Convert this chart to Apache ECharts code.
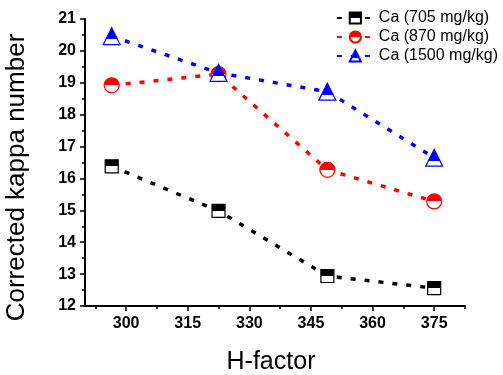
<!DOCTYPE html>
<html>
<head>
<meta charset="utf-8">
<script src="https://cdn.jsdelivr.net/npm/echarts@6/dist/echarts.min.js"></script>
<style>
  html, body { margin: 0; padding: 0; background: #fff; }
  #chart { width: 503px; height: 375px; }
</style>
</head>
<body>
<div id="chart"></div>
<script>
// H-factor values and corrected kappa number per Ca level
const hFactor = [296.5, 322.5, 349, 375]
const ca705 = [16.38, 14.98, 12.94, 12.56]
const ca870 = [18.92, 19.27, 16.27, 15.28]
const ca1500 = [20.46, 19.31, 18.72, 16.65]
const seriesNames = ['Ca (705 mg/kg)', 'Ca (870 mg/kg)', 'Ca (1500 mg/kg)']
const xMajorTicks = [300, 315, 330, 345, 360, 375]
const xMinorTicks = [292.5, 307.5, 322.5, 337.5, 352.5, 367.5, 382.5]

const font = 'Liberation Sans, Arial, sans-serif'

// top part filled, bottom white
function halfFill(color, cut) {
  return {
    type: 'linear', x: 0, y: 0, x2: 0, y2: 1,
    colorStops: [
      { offset: 0, color: color },
      { offset: cut, color: color },
      { offset: cut, color: '#fff' },
      { offset: 1, color: '#fff' }
    ]
  }
}

function makeSeries(name, values, color, symbol, size, cut) {
  return {
    name: name,
    type: 'line',
    data: hFactor.map((h, i) => [h, values[i]]),
    symbol: symbol,
    symbolSize: size,
    showAllSymbol: true,
    lineStyle: { color: color, width: 3.5, type: [5, 9] },
    itemStyle: { color: halfFill(color, cut), borderColor: color, borderWidth: 1.2 },
    emphasis: { disabled: true }
  }
}

const chart = echarts.init(document.getElementById('chart'))
chart.setOption({
  animation: false,
  grid: { left: 85, right: 38, top: 19, bottom: 69, containLabel: false, outerBoundsMode: 'none' },
  legend: {
    orient: 'vertical',
    right: 0,
    top: 5,
    itemWidth: 37,
    itemHeight: 14,
    itemGap: 3,
    textStyle: { fontFamily: font, fontSize: 16, color: '#000' },
    data: seriesNames
  },
  xAxis: [
    {
      type: 'value',
      min: 290,
      max: 382.5,
      name: 'H-factor',
      nameLocation: 'middle',
      nameGap: 44,
      nameTextStyle: { fontFamily: font, fontSize: 25, color: '#000', padding: [0, 8, 0, 0] },
      axisLine: { lineStyle: { color: '#000', width: 2 } },
      axisTick: { customValues: xMajorTicks, length: 5, lineStyle: { color: '#000', width: 1.5 } },
      axisLabel: { customValues: xMajorTicks, fontFamily: font, fontSize: 16, fontWeight: 'bold', color: '#000', margin: 10 },
      splitLine: { show: false }
    },
    {
      type: 'value',
      position: 'bottom',
      min: 290,
      max: 382.5,
      axisLine: { show: false },
      axisTick: { customValues: xMinorTicks, length: 3, lineStyle: { color: '#000', width: 1.5 } },
      axisLabel: { show: false },
      splitLine: { show: false }
    }
  ],
  yAxis: {
    type: 'value',
    min: 12,
    max: 21,
    interval: 1,
    name: 'Corrected kappa number',
    nameLocation: 'middle',
    nameGap: 55,
    nameTextStyle: { fontFamily: font, fontSize: 26, color: '#000', padding: [0, 30, 0, 0] },
    axisLine: { show: true, lineStyle: { color: '#000', width: 2 } },
    axisTick: { show: true, length: 5, lineStyle: { color: '#000', width: 1.5 } },
    minorTick: { show: true, splitNumber: 2, length: 3, lineStyle: { color: '#000', width: 1.5 } },
    axisLabel: { fontFamily: font, fontSize: 16, fontWeight: 'bold', color: '#000', margin: 9 },
    splitLine: { show: false }
  },
  series: [
    makeSeries(seriesNames[0], ca705, '#000000', 'rect', 13, 0.5),
    makeSeries(seriesNames[1], ca870, '#ff0000', 'circle', 15, 0.5),
    makeSeries(seriesNames[2], ca1500, '#0000ff', 'triangle', 17, 0.68)
  ]
})
</script>
</body>
</html>
